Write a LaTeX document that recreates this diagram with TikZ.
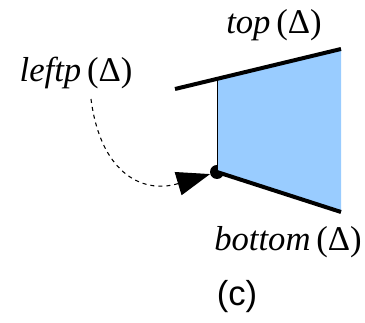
\documentclass[tikz,border=0pt]{standalone}
\usepackage{fontspec}
\setmainfont{Liberation Serif}
\newfontfamily\capfont{Liberation Sans}
\usetikzlibrary{arrows.meta}
\definecolor{cellblue}{HTML}{99CCFF}

\begin{document}
\begin{tikzpicture}[x=0.75pt,y=-0.75pt,every node/.style={font=\fontsize{26}{30}\selectfont}]
\useasboundingbox (0,0) rectangle (365,323);
\coordinate (tl) at (175,89);
\coordinate (tm) at (217,79);
\coordinate (tr) at (341,49);
\coordinate (br) at (341,212);
\coordinate (tail) at (91,99);
\node[circle,fill=black,inner sep=0pt,minimum size=10.5pt] (dot) at (217,172) {};
\fill[cellblue] (tm) -- (tr) -- (br) -- (dot.center) -- cycle;
\draw[line width=0.7pt] (tm) -- (dot.center);
\draw[line width=3pt] (tl) -- (tr);
\draw[line width=3pt] (dot.center) -- (br);
\node (top) at (274,25) {\textit{top}\,(Δ)};
\node (leftp) at (76,73) {\textit{leftp}\,(Δ)};
\node (bottom) at (288,242) {\textit{bottom}\,(Δ)};
\node[font=\capfont\fontsize{26}{30}\selectfont] (caption) at (237,297) {(c)};
\draw[dashed,line width=0.8pt,-{Triangle[length=25pt,width=18pt]}] (tail) .. controls (100,170) and (140,195) .. (dot);
\end{tikzpicture}
\end{document}
